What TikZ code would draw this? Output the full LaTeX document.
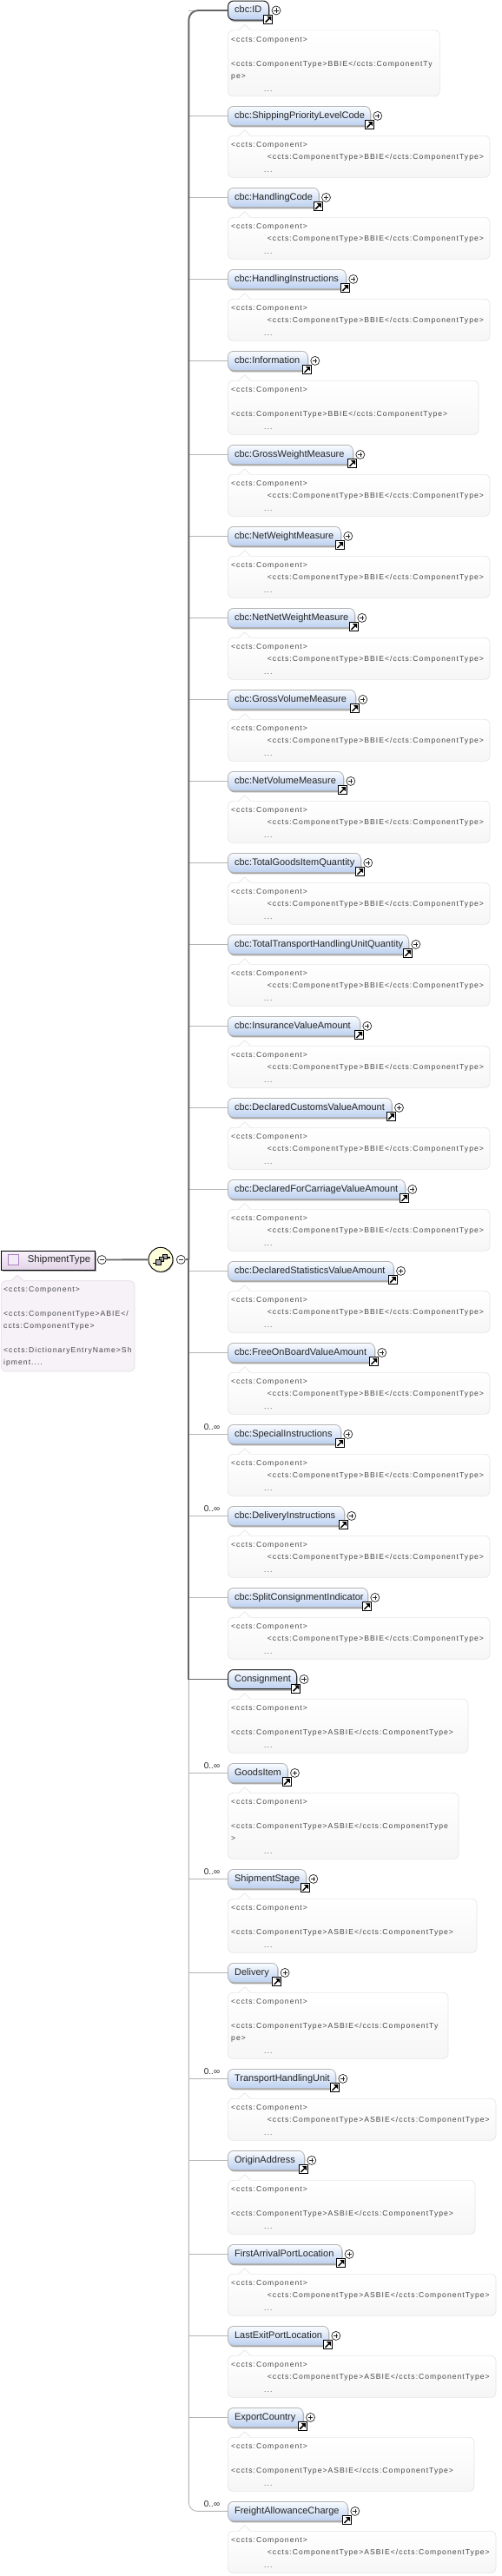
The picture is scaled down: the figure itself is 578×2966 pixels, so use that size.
\documentclass[tikz,border=0pt]{standalone}
\usepackage{fontspec}
\setmainfont{Liberation Sans}
\newfontfamily\annfont[LetterSpace=12]{Liberation Sans}
\usetikzlibrary{shadows,calc}
\definecolor{elemtop}{HTML}{FAFCFF}
\definecolor{elembot}{HTML}{BCD0F0}
\definecolor{annedge}{HTML}{E6E6E6}
\definecolor{annbot}{HTML}{F6F6F6}
\definecolor{lightline}{HTML}{B4B4B4}
\definecolor{darkline}{HTML}{666666}
\definecolor{shade}{HTML}{A8A8A8}
\definecolor{roottop}{HTML}{F8F2FA}
\definecolor{rootbot}{HTML}{E2D4E8}
\definecolor{rootann}{HTML}{F6F2F8}
\definecolor{rootedge}{HTML}{E2DEE4}
\definecolor{rooticonedge}{HTML}{B080C0}
\definecolor{rooticonfill}{HTML}{F2ECF6}
\definecolor{seqfill}{HTML}{FFFFDC}
\tikzset{
  elembase/.style={rounded corners=6.5pt,top color=elemtop,bottom color=elembot,anchor=north west,
    minimum height=22pt,inner ysep=0pt,inner xsep=7.7pt,align=left,text height=8pt,text depth=2.5pt,
    font=\fontsize{11}{13}\selectfont,text=black!85,
    general shadow={shadow xshift=1pt,shadow yshift=-2pt,fill=shade}},
  optelem/.style={elembase,draw=lightline,line width=.8pt},
  reqelem/.style={elembase,draw=black!85,line width=1pt},
  annbox/.style={rounded corners=6pt,draw=annedge,line width=.7pt,top color=white,bottom color=annbot,anchor=north west,inner sep=0pt},
  anntxt/.style={anchor=north west,inner xsep=4pt,inner ysep=6.3pt,align=left,text=black!72,
    font=\annfont\fontsize{8.6pt}{14pt}\selectfont},
  plusbtn/.style={circle,draw=black!85,fill=white,line width=.7pt,minimum size=10pt,inner sep=0pt,
    path picture={\draw[black!85,line width=.6pt] ([xshift=-2.6pt]path picture bounding box.center)--([xshift=2.6pt]path picture bounding box.center)
      ([yshift=-2.6pt]path picture bounding box.center)--([yshift=2.6pt]path picture bounding box.center);}},
  minusbtn/.style={circle,draw=black!85,fill=white,line width=.7pt,minimum size=10pt,inner sep=0pt,
    path picture={\draw[black!85,line width=.6pt] ([xshift=-2.6pt]path picture bounding box.center)--([xshift=2.6pt]path picture bounding box.center);}},
  refbtn/.style={rectangle,draw=black,fill=white,line width=.9pt,minimum size=10pt,inner sep=0pt,
    path picture={\draw[black,line width=1.5pt] ($(path picture bounding box.center)+(-3pt,-3pt)$)--($(path picture bounding box.center)+(1.6pt,1.6pt)$);
    \fill[black] ($(path picture bounding box.center)+(3.6pt,3.6pt)$)--($(path picture bounding box.center)+(-1.4pt,3.6pt)$)--($(path picture bounding box.center)+(3.6pt,-1.4pt)$)--cycle;}},
  branch/.style={draw=lightline,line width=.9pt},
  trunkdark/.style={draw=darkline,line width=1.9pt},
  cardtxt/.style={anchor=west,inner sep=0pt,font=\fontsize{10}{12}\selectfont,text=black!85},
}
% annotation bodies
\newcommand\cmp{<ccts:Component>}
\newcommand\rowstrut{\rule{0pt}{7pt}}
\newcommand\anndots{\hspace*{38pt}...}
\newcommand\annA[1]{\rowstrut\cmp\\\hspace*{41.7pt}<ccts:ComponentType>#1</ccts:ComponentType>\\[1.3pt]\anndots}
\newcommand\annB[1]{\rowstrut\cmp\\ \rule{0pt}{1pt}\\<ccts:ComponentType>#1</ccts:ComponentType>\\[1.3pt]\anndots}
\newcommand\annC[2]{\rowstrut\cmp\\ \rule{0pt}{1pt}\\#1\\#2\\[1.3pt]\anndots}
% element: [style]{id}{label}{top}{right}{annotation right}{annotation height}{annotation text}
\newcommand\elem[8][optelem]{%
  \pgfmathsetmacro\elw{#5-262}\pgfmathsetmacro\annw{#6-262}%
  \node[#1,minimum width=\elw pt,text width=\elw pt-15.4pt] (#2) at (262,#4) {\mbox{#3}};
  \coordinate (tk-#2) at (217.3,0 |- #2.west);
  \draw[branch] (tk-#2) -- (#2.west);
  \node[refbtn] (ref-#2) at ($(#2.south east)+(-1.3pt,1pt)$) {};
  \node[plusbtn] (plus-#2) at ($(#2.east)+(8pt,0pt)$) {};
  \node[annbox,minimum width=\annw pt,minimum height=#7 pt] (ann-#2) at ($(#2.north west)+(0pt,-34pt)$) {};
  \path[fill=white] ([xshift=13pt,yshift=-.6pt]ann-#2.north west) -- ([xshift=19.7pt,yshift=6.2pt]ann-#2.north west) -- ([xshift=26.4pt,yshift=-.6pt]ann-#2.north west) -- cycle;
  \draw[annedge,line width=.7pt] ([xshift=13pt]ann-#2.north west) -- ([xshift=19.7pt,yshift=6.2pt]ann-#2.north west) -- ([xshift=26.4pt]ann-#2.north west);
  \node[anntxt] (anntext-#2) at (ann-#2.north west) {#8};
}
\newcommand\card[1]{\node[cardtxt] (card-#1) at ($(#1.north west)+(-27.3pt,-3pt)$) {0..∞};}
\begin{document}
\begin{tikzpicture}[x=1pt,y=-1pt]
\useasboundingbox (0,0) rectangle (578,2966);
\fill[white] (0,0) rectangle (578,2966);
\elem[reqelem]{id}{cbc:ID}{0.5}{309}{506}{76}{\annC{<ccts:ComponentType>BBIE</ccts:ComponentTy}{pe>}}
\elem{spl}{cbc:ShippingPriorityLevelCode}{122}{426}{563.7}{48}{\annA{BBIE}}
\elem{hc}{cbc:HandlingCode}{216}{366.7}{563.7}{48}{\annA{BBIE}}
\elem{hi}{cbc:HandlingInstructions}{310}{398}{563.7}{48}{\annA{BBIE}}
\elem{inf}{cbc:Information}{404}{354}{550.7}{62}{\annB{BBIE}}
\elem{gwm}{cbc:GrossWeightMeasure}{512}{406}{563.7}{48}{\annA{BBIE}}
\elem{nwm}{cbc:NetWeightMeasure}{606}{392}{563.7}{48}{\annA{BBIE}}
\elem{nnwm}{cbc:NetNetWeightMeasure}{700}{408}{563.7}{48}{\annA{BBIE}}
\elem{gvm}{cbc:GrossVolumeMeasure}{794}{409}{563.7}{48}{\annA{BBIE}}
\elem{nvm}{cbc:NetVolumeMeasure}{888}{395}{563.7}{48}{\annA{BBIE}}
\elem{tgq}{cbc:TotalGoodsItemQuantity}{982}{415}{563.7}{48}{\annA{BBIE}}
\elem{ttq}{cbc:TotalTransportHandlingUnitQuantity}{1076}{470}{563.7}{48}{\annA{BBIE}}
\elem{iva}{cbc:InsuranceValueAmount}{1170}{414}{563.7}{48}{\annA{BBIE}}
\elem{dcv}{cbc:DeclaredCustomsValueAmount}{1264}{450.7}{563.7}{48}{\annA{BBIE}}
\elem{dfc}{cbc:DeclaredForCarriageValueAmount}{1358}{466}{563.7}{48}{\annA{BBIE}}
\elem{dsv}{cbc:DeclaredStatisticsValueAmount}{1452}{452.7}{563.7}{48}{\annA{BBIE}}
\elem{fob}{cbc:FreeOnBoardValueAmount}{1546}{431}{563.7}{48}{\annA{BBIE}}
\elem{spi}{cbc:SpecialInstructions}{1640}{392}{563.7}{48}{\annA{BBIE}}\card{spi}
\elem{dli}{cbc:DeliveryInstructions}{1734}{396}{563.7}{48}{\annA{BBIE}}\card{dli}
\elem{sci}{cbc:SplitConsignmentIndicator}{1828}{423}{563.7}{48}{\annA{BBIE}}
\elem[reqelem]{con}{Consignment}{1922}{341}{538.7}{62}{\annB{ASBIE}}
\elem{goo}{GoodsItem}{2030}{330.7}{527.7}{76}{\annC{<ccts:ComponentType>ASBIE</ccts:ComponentType}{>}}\card{goo}
\elem{sst}{ShipmentStage}{2152}{352}{548.7}{62}{\annB{ASBIE}}\card{sst}
\elem{del}{Delivery}{2260}{319.3}{515.7}{76}{\annC{<ccts:ComponentType>ASBIE</ccts:ComponentTy}{pe>}}
\elem{thu}{TransportHandlingUnit}{2382}{386}{570.7}{48}{\annA{ASBIE}}\card{thu}
\elem{oad}{OriginAddress}{2476}{350}{546.7}{62}{\annB{ASBIE}}
\elem{fap}{FirstArrivalPortLocation}{2584}{393.3}{570.7}{48}{\annA{ASBIE}}
\elem{lep}{LastExitPortLocation}{2678}{378}{570.7}{48}{\annA{ASBIE}}
\elem{exc}{ExportCountry}{2772}{348.7}{545.7}{62}{\annB{ASBIE}}
\elem{fac}{FreightAllowanceCharge}{2880}{400}{570.7}{48}{\annA{ASBIE}}\card{fac}
% trunk
\coordinate (tk-seq) at (217.3,1450.3);
\draw[branch,draw=white,line width=1.2pt] (tk-fac) -- (fac.west);
\draw[branch,rounded corners=10pt] (tk-con) -- (tk-fac) -- (fac.west);
\draw[trunkdark,rounded corners=11pt] (id.west) -- (tk-id) -- (tk-seq);
\draw[trunkdark,line join=miter] (tk-seq) -- (tk-con) -- (con.west);
% root type
\node[draw=black,line width=1pt,top color=roottop,bottom color=rootbot,minimum width=108pt,minimum height=22pt,anchor=north west,inner sep=0pt,
  general shadow={shadow xshift=1.5pt,shadow yshift=-2pt,fill=shade}] (root) at (0.5,1439.5) {};
\node[anchor=west,inner sep=0pt,font=\fontsize{11.3}{13}\selectfont,text=black!85] (rootlabel) at (31.7,1450.5) {ShipmentType};
\node[draw=rooticonedge,line width=.9pt,fill=rooticonfill,minimum size=12pt,inner sep=0pt] (rooticon) at (15.5,1450.5) {};
\node[minusbtn] (rootminus) at (117.3,1450.5) {};
\node[annbox,top color=rootann,bottom color=rootann,draw=rootedge,minimum width=153.6pt,minimum height=104.4pt] (rootannbox) at (1,1474.3) {};
\path[fill=rootann] ([xshift=12pt,yshift=-.6pt]rootannbox.north west) -- ([xshift=19pt,yshift=6.2pt]rootannbox.north west) -- ([xshift=26pt,yshift=-.6pt]rootannbox.north west) -- cycle;
\draw[rootedge,line width=.7pt] ([xshift=12pt]rootannbox.north west) -- ([xshift=19pt,yshift=6.2pt]rootannbox.north west) -- ([xshift=26pt]rootannbox.north west);
\node[anntxt,inner xsep=3pt] (roottext) at (rootannbox.north west) {\rowstrut\cmp\\ \rule{0pt}{1pt}\\<ccts:ComponentType>ABIE</\\ccts:ComponentType>\\ \rule{0pt}{1pt}\\<ccts:DictionaryEntryName>Sh\\ipment....};
% sequence compositor
\node[circle,draw=black,line width=.9pt,fill=seqfill,minimum size=28pt,inner sep=0pt,
  general shadow={shadow xshift=1pt,shadow yshift=-1pt,fill=shade}] (seq) at (185,1450.3) {};
\node[minusbtn] (seqminus) at (208.3,1450.3) {};
\draw[trunkdark] (rootminus) -- (seq);
\draw[trunkdark] (seqminus) -- (tk-seq);
\begin{scope}[shift={(seq.center)}]
  \draw[black,line width=1.2pt] (-9.5,4) -- (-5,4) (7,-2.3) -- (11,-2.3);
  \draw[black,line width=.6pt,fill=gray!70] (2.2,-5.8) rectangle (7.4,-.8);
  \draw[black,line width=.6pt,fill=gray!70] (-1.4,-2.8) rectangle (3.6,2.2);
  \draw[black,line width=.6pt,fill=gray!70] (-5.4,.2) rectangle (.2,5.8);
\end{scope}
\end{tikzpicture}
\end{document}
